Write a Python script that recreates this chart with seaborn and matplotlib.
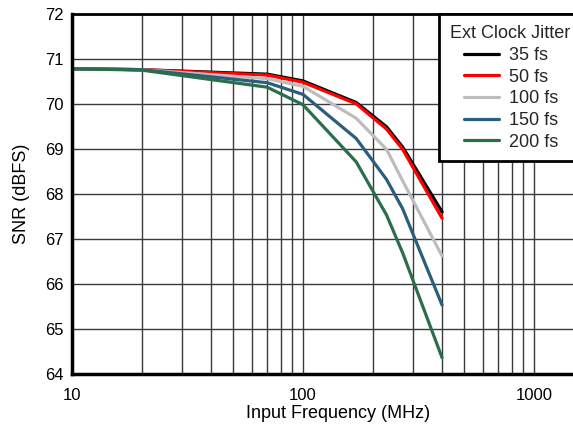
import numpy as np
import pandas as pd
import matplotlib
matplotlib.use("Agg")
import matplotlib.pyplot as plt
import seaborn as sns
from matplotlib.ticker import FixedLocator, NullFormatter

freq_mhz = [10, 20, 70, 100, 170, 230, 270, 400]
jitter_labels = ["35 fs", "50 fs", "100 fs", "150 fs", "200 fs"]
snr_35fs = [70.79, 70.77, 70.67, 70.52, 70.04, 69.50, 69.05, 67.61]
snr_50fs = [70.79, 70.77, 70.65, 70.49, 70.01, 69.45, 69.00, 67.47]
snr_100fs = [70.79, 70.77, 70.57, 70.40, 69.69, 69.00, 68.30, 66.63]
snr_150fs = [70.79, 70.77, 70.48, 70.22, 69.24, 68.33, 67.68, 65.54]
snr_200fs = [70.79, 70.76, 70.38, 69.99, 68.72, 67.54, 66.70, 64.37]
colors = ["#000000", "#ff0000", "#bdbdbd", "#2b5d7c", "#2a6e4c"]

series = [snr_35fs, snr_50fs, snr_100fs, snr_150fs, snr_200fs]
df = pd.DataFrame({
    "freq": np.tile(freq_mhz, len(jitter_labels)),
    "snr": np.concatenate(series),
    "jitter": np.repeat(jitter_labels, len(freq_mhz)),
})

sns.set_theme(style="white")
plt.rcParams["font.family"] = ["Liberation Sans", "DejaVu Sans"]

fig = plt.figure(figsize=(5.73, 4.25), dpi=100)
ax = fig.add_axes([72 / 573, 1 - 374.3 / 425, (603.5 - 72) / 573, (374.3 - 14.3) / 425])

sns.lineplot(data=df, x="freq", y="snr", hue="jitter", hue_order=jitter_labels,
             palette=colors, linewidth=2.3, ax=ax, sort=False)

ax.set_xscale("log")
ax.set_xlim(10, 2000)
ax.set_ylim(64, 72)
ax.set_yticks(range(64, 73))
ax.xaxis.set_major_locator(FixedLocator([10, 100, 1000]))
ax.set_xticklabels(["10", "100", "1000"])
minor = [m * d for d in (10, 100, 1000) for m in range(2, 10)]
ax.xaxis.set_minor_locator(FixedLocator([v for v in minor if v <= 2000]))
ax.xaxis.set_minor_formatter(NullFormatter())
ax.grid(True, which="both", color="#3a3a3a", linewidth=1.0)
ax.tick_params(axis="both", which="both", length=0, labelsize=12, colors="black")
ax.tick_params(axis="x", pad=10)
ax.tick_params(axis="y", pad=6)

for s in ["left", "bottom", "top"]:
    ax.spines[s].set_visible(True)
    ax.spines[s].set_color("black")
ax.spines["left"].set_linewidth(2.5)
ax.spines["bottom"].set_linewidth(2.5)
ax.spines["top"].set_linewidth(2.0)
ax.spines["right"].set_visible(False)

ax.set_xlabel("Input Frequency (MHz)", fontsize=13, color="black", labelpad=1)
ax.set_ylabel("SNR (dBFS)", fontsize=13, color="black", labelpad=11)

leg = ax.legend(title="Ext Clock Jitter", loc="upper left",
                bbox_to_anchor=((439 - 72) / (603.5 - 72), 1.0),
                fontsize=13, title_fontsize=13, frameon=True, fancybox=False,
                edgecolor="black", framealpha=1, borderpad=0.6, labelspacing=0.26,
                handlelength=2.72, handletextpad=0.55, alignment="left",
                borderaxespad=0)
leg.get_frame().set_linewidth(2.0)
shift_pt = 14 * 72 / 100
for line in leg.get_lines():
    line.set_linewidth(2.3)
    xd = np.asarray(line.get_xdata(), dtype=float)
    yd = np.asarray(line.get_ydata(), dtype=float)
    line.set_data([xd.min() + shift_pt, xd.max()], [yd[0], yd[0]])

fig.savefig("out.png", dpi=100)
